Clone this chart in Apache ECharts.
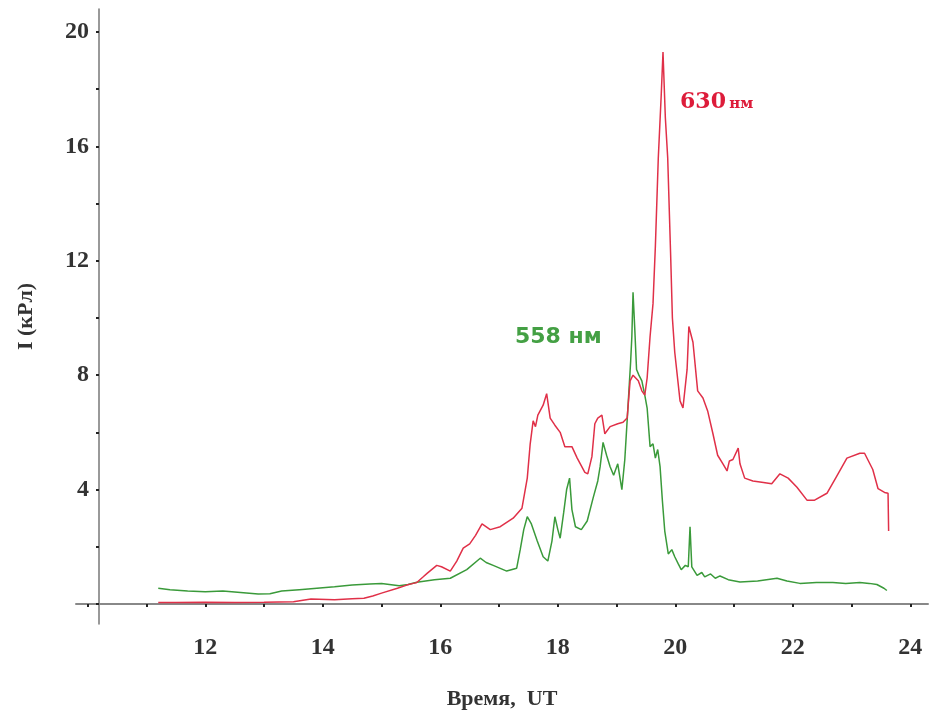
<!DOCTYPE html>
<html>
<head>
<meta charset="utf-8">
<script src="https://cdn.jsdelivr.net/npm/echarts@6/dist/echarts.min.js"></script>
<style>
html,body{margin:0;padding:0;background:#fff;}
#chart{width:929px;height:715px;}
</style>
</head>
<body>
<div id="chart"></div>
<script>
// 558 nm (green) series
const timeGreen = [11.2,11.4,11.7,12.0,12.3,12.6,12.9,13.1,13.3,13.6,13.9,14.2,14.5,14.8,15.0,15.3,15.45,15.6,15.9,16.17,16.45,16.68,16.78,16.9,17.13,17.3,17.36,17.42,17.48,17.55,17.65,17.75,17.83,17.9,17.95,18.0,18.04,18.1,18.15,18.2,18.24,18.3,18.4,18.5,18.6,18.68,18.72,18.77,18.83,18.89,18.95,19.02,19.09,19.14,19.2,19.24,19.26,19.28,19.31,19.34,19.38,19.43,19.48,19.52,19.57,19.62,19.66,19.7,19.74,19.78,19.82,19.88,19.94,19.99,20.05,20.1,20.17,20.22,20.25,20.28,20.37,20.45,20.5,20.6,20.68,20.76,20.9,21.1,21.4,21.73,21.9,22.12,22.4,22.68,22.9,23.14,23.3,23.43,23.55,23.6];
const valueGreen = [0.55,0.5,0.45,0.43,0.45,0.4,0.35,0.36,0.45,0.5,0.55,0.6,0.66,0.7,0.72,0.64,0.68,0.76,0.85,0.9,1.2,1.6,1.45,1.35,1.15,1.25,1.9,2.6,3.05,2.8,2.2,1.65,1.5,2.2,3.05,2.6,2.3,3.2,4.0,4.4,3.3,2.7,2.6,2.9,3.7,4.3,4.8,5.65,5.2,4.8,4.5,4.9,4.0,5.05,7.1,8.5,9.35,10.9,9.6,8.2,8.0,7.8,7.3,6.85,5.5,5.6,5.1,5.4,4.8,3.6,2.55,1.75,1.9,1.65,1.4,1.2,1.35,1.3,2.7,1.3,1.0,1.1,0.95,1.05,0.9,0.98,0.85,0.77,0.8,0.9,0.8,0.72,0.75,0.75,0.72,0.75,0.72,0.68,0.55,0.47];

// 630 nm (red) series
const timeRed = [11.2,11.5,12.0,12.5,13.0,13.5,13.8,14.2,14.5,14.7,14.85,15.0,15.27,15.43,15.54,15.6,15.71,15.78,15.94,16.02,16.17,16.28,16.39,16.5,16.6,16.71,16.85,17.02,17.24,17.39,17.48,17.53,17.58,17.62,17.66,17.75,17.81,17.87,17.95,18.04,18.12,18.24,18.33,18.46,18.51,18.58,18.63,18.68,18.75,18.8,18.89,19.02,19.11,19.18,19.23,19.28,19.37,19.43,19.48,19.52,19.57,19.62,19.66,19.71,19.76,19.79,19.83,19.87,19.92,19.95,19.99,20.08,20.13,20.2,20.23,20.3,20.38,20.47,20.55,20.64,20.72,20.81,20.88,20.92,20.98,21.07,21.1,21.18,21.32,21.5,21.64,21.78,21.92,22.07,22.24,22.37,22.58,22.75,22.92,23.14,23.22,23.36,23.45,23.56,23.62,23.63];
const valueRed = [0.05,0.05,0.06,0.05,0.06,0.08,0.17,0.15,0.18,0.2,0.28,0.38,0.55,0.66,0.72,0.75,0.95,1.08,1.35,1.3,1.15,1.5,1.95,2.1,2.4,2.8,2.6,2.7,3.0,3.35,4.4,5.6,6.4,6.2,6.6,6.95,7.35,6.5,6.25,6.0,5.5,5.5,5.1,4.6,4.55,5.15,6.3,6.5,6.6,5.95,6.2,6.3,6.35,6.5,7.8,8.0,7.8,7.45,7.3,7.9,9.35,10.5,12.5,15.6,17.8,19.3,17.0,15.6,12.2,10.0,8.8,7.1,6.85,8.2,9.7,9.15,7.45,7.2,6.75,5.95,5.2,4.9,4.65,5.0,5.05,5.45,4.9,4.4,4.3,4.25,4.2,4.55,4.4,4.08,3.63,3.63,3.87,4.48,5.1,5.27,5.27,4.7,4.03,3.9,3.87,2.55];

// annotation anchors [time, intensity]
const labelRedPos = [20.08, 17.55];
const labelGreenPos = [17.27, 9.34];

const xMin = 9.8, xMax = 24.3, yMin = -0.7, yMax = 20.8;

const zip = (a, b) => a.map((v, i) => [v, b[i]]);

const chart = echarts.init(document.getElementById('chart'), null, {renderer: 'canvas'});
chart.setOption({
  animation: false,
  backgroundColor: '#fff',
  grid: {left: 76, right: 1, top: 9, bottom: 72, containLabel: false},
  xAxis: {
    type: 'value', min: xMin, max: xMax, splitNumber: 15,
    name: 'Время,  UT', nameLocation: 'middle', nameGap: 64,
    nameTextStyle: {fontFamily: 'Liberation Serif', fontSize: 22, fontWeight: 'bold', color: '#333'},
    axisLine: {onZero: true, lineStyle: {color: '#888', width: 2}},
    axisTick: {show: true, length: 3, inside: false, lineStyle: {color: '#222', width: 2}},
    splitLine: {show: false},
    axisLabel: {
      margin: 12, fontFamily: 'Liberation Serif', fontSize: 24, fontWeight: 'bold', color: '#333',
      showMinLabel: false, showMaxLabel: false,
      formatter: v => (Math.abs(v - Math.round(v)) < 1e-6 && Math.round(v) % 2 === 0 && v >= 12) ? String(Math.round(v)) : ''
    }
  },
  yAxis: {
    type: 'value', min: yMin, max: yMax, splitNumber: 11, offset: -23,
    name: 'I (кРл)', nameLocation: 'middle', nameGap: 62, nameRotate: 90,
    nameTextStyle: {fontFamily: 'Liberation Serif', fontSize: 22, fontWeight: 'bold', color: '#333'},
    axisLine: {show: true, onZero: false, lineStyle: {color: '#777', width: 1.5}},
    axisTick: {show: true, length: 3, lineStyle: {color: '#222', width: 2}},
    splitLine: {show: false},
    axisLabel: {
      margin: 10, fontFamily: 'Liberation Serif', fontSize: 24, fontWeight: 'bold', color: '#333',
      showMinLabel: false, showMaxLabel: false,
      formatter: v => (Math.abs(v - Math.round(v)) < 1e-6 && Math.round(v) % 4 === 0 && v > 0) ? String(Math.round(v)) : ''
    }
  },
  series: [
    {
      name: '558 нм', type: 'line', data: zip(timeGreen, valueGreen),
      showSymbol: false, symbol: 'none', smooth: false,
      lineStyle: {color: '#3a9a3a', width: 1.5},
      markPoint: {
        symbol: 'circle', symbolSize: 0,
        data: [{coord: labelGreenPos, value: '558 нм'}],
        label: {show: true, position: 'right', distance: 0, formatter: '558 нм',
          fontFamily: 'DejaVu Sans', fontSize: 22, fontWeight: 'bold', color: '#44a044'}
      }
    },
    {
      name: '630 нм', type: 'line', data: zip(timeRed, valueRed),
      showSymbol: false, symbol: 'none', smooth: false,
      lineStyle: {color: '#e03048', width: 1.5},
      markPoint: {
        symbol: 'circle', symbolSize: 0,
        data: [{coord: labelRedPos, value: '630 нм'}],
        label: {show: true, position: 'right', distance: 0,
          formatter: '{a|630} {b|нм}',
          rich: {
            a: {fontFamily: 'DejaVu Serif', fontSize: 22, fontWeight: 'bold', color: '#dd1c3a'},
            b: {fontFamily: 'DejaVu Serif', fontSize: 15, fontWeight: 'bold', color: '#dd1c3a', padding: [4, 0, 0, 0]}
          }}
      }
    }
  ]
});
</script>
</body>
</html>
